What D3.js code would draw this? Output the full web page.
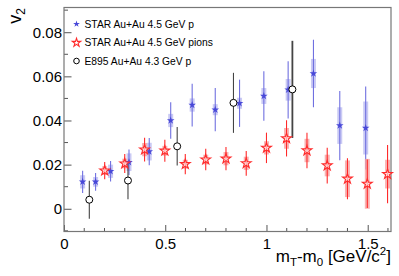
<!DOCTYPE html>
<html><head><meta charset="utf-8">
<script src="https://cdn.jsdelivr.net/npm/d3@7"></script>
<style>body{margin:0;background:#fff}svg{display:block}text{font-family:"Liberation Sans",Arial,sans-serif}</style>
</head><body><svg id="c" width="399" height="276"></svg>
<script>
// STAR Au+Au 4.5 GeV protons
const pX    = [0.092,0.156,0.230,0.321,0.421,0.527,0.633,0.747,0.867,0.987,1.107,1.232,1.362,1.490];
const pV    = [0.0122,0.0122,0.0170,0.0211,0.0259,0.0400,0.0470,0.0449,0.0478,0.0511,0.0539,0.0613,0.0377,0.0366];
const pStat = [0.0050,0.0040,0.0046,0.0058,0.0062,0.0083,0.0097,0.0098,0.0107,0.0112,0.0130,0.0153,0.0157,0.0188];
const pSys  = [0.0030,0.0022,0.0030,0.0040,0.0040,0.0030,0.0030,0.0025,0.0025,0.0036,0.0049,0.0066,0.0083,0.0120];
// STAR Au+Au 4.5 GeV pions
const piX    = [0.201,0.300,0.398,0.498,0.599,0.700,0.800,0.900,1.000,1.099,1.200,1.300,1.400,1.498,1.598];
const piV    = [0.0173,0.0205,0.0268,0.0263,0.0202,0.0223,0.0227,0.0206,0.0276,0.0319,0.0264,0.0196,0.0136,0.0113,0.0157];
const piStat = [0.0039,0.0043,0.0054,0.0050,0.0046,0.0049,0.0053,0.0056,0.0069,0.0082,0.0080,0.0081,0.0093,0.0110,0.0132];
const piSys  = [0.0020,0.0022,0.0030,0.0022,0.0020,0.0022,0.0030,0.0030,0.0030,0.0047,0.0053,0.0049,0.0083,0.0113,0.0065];
// E895 Au+Au 4.3 GeV protons
const eX   = [0.125,0.316,0.559,0.837,1.128];
const eV   = [0.0041,0.0128,0.0283,0.0480,0.0541];
const eErr = [0.0086,0.0085,0.0087,0.0136,0.0220];
// axes
const xTicks = [0,0.5,1,1.5];
const yTicks = [0,0.02,0.04,0.06,0.08];
const legendLabels = ["STAR Au+Au 4.5 GeV p","STAR Au+Au 4.5 GeV pions","E895 Au+Au 4.3 GeV p"];

const svg = d3.select("#c");
const L=64, R=391, T=7.5, B=231.5;
const x = d3.scaleLinear().domain([0,1.615]).range([L,R]);
const y = d3.scaleLinear().domain([-0.0103,0.0912]).range([B,T]);
const axisCol="#555";

// axes
const gx = svg.append("g").attr("transform",`translate(0,${B})`);
gx.call(d3.axisBottom(x).tickValues(xTicks).tickSize(-6.5).tickPadding(6.5).tickFormat(d=>d===0?"0":d3.format("")(d)));
const gy = svg.append("g").attr("transform",`translate(${L},0)`);
gy.call(d3.axisLeft(y).tickValues(yTicks).tickSize(-7.5).tickPadding(2).tickFormat(d=>d===0?"0":d3.format(".2f")(d)));
[gx,gy].forEach(g=>{
  g.select(".domain").remove();
  g.selectAll(".tick line").attr("stroke",axisCol);
  g.selectAll(".tick text").attr("fill","#000").style("font-size","15px");
});
// minor ticks
const xMinor = d3.range(0,1.62,0.1).filter(v=>Math.abs(v*2-Math.round(v*2))>1e-6);
svg.append("g").selectAll("line").data(xMinor).join("line")
  .attr("x1",d=>x(d)).attr("x2",d=>x(d)).attr("y1",B).attr("y2",B-3.5).attr("stroke",axisCol);
const yMinor = [-0.01,0.01,0.03,0.05,0.07,0.09];
svg.append("g").selectAll("line").data(yMinor).join("line")
  .attr("x1",L).attr("x2",L+4).attr("y1",d=>y(d)).attr("y2",d=>y(d)).attr("stroke",axisCol);
// frame
svg.append("rect").attr("x",L).attr("y",T).attr("width",R-L).attr("height",B-T)
  .attr("fill","none").attr("stroke","#777").attr("stroke-width",1.2);

const star = d3.symbol().type(d3.symbolStar);
const blue="#4848d8", red="#ff2a2a";

// protons (blue)
const pd = pX.map((v,i)=>({x:v,v:pV[i],s:pStat[i],sy:pSys[i]}));
svg.append("g").selectAll("rect").data(pd).join("rect")
  .attr("x",d=>x(d.x)-2.5).attr("width",5).attr("y",d=>y(d.v+d.sy)).attr("height",d=>y(d.v-d.sy)-y(d.v+d.sy))
  .attr("fill","#b8b8f0").attr("opacity",0.75);
svg.append("g").selectAll("line").data(pd).join("line")
  .attr("x1",d=>x(d.x)).attr("x2",d=>x(d.x)).attr("y1",d=>y(d.v+d.s)).attr("y2",d=>y(d.v-d.s))
  .attr("stroke","#7070e0").attr("stroke-width",1.1);

// pions (red)
const pid = piX.map((v,i)=>({x:v,v:piV[i],s:piStat[i],sy:piSys[i]}));
svg.append("g").selectAll("rect").data(pid).join("rect")
  .attr("x",d=>x(d.x)-2.5).attr("width",5).attr("y",d=>y(d.v+d.sy)).attr("height",d=>y(d.v-d.sy)-y(d.v+d.sy))
  .attr("fill","#f7a0a0").attr("opacity",0.8);
svg.append("g").selectAll("line").data(pid).join("line")
  .attr("x1",d=>x(d.x)).attr("x2",d=>x(d.x)).attr("y1",d=>y(d.v+d.s)).attr("y2",d=>y(d.v-d.s))
  .attr("stroke",red).attr("stroke-width",1.1);

// E895 (black)
const ed = eX.map((v,i)=>({x:v,v:eV[i],e:eErr[i]}));
svg.append("g").selectAll("line").data(ed).join("line")
  .attr("x1",d=>x(d.x)).attr("x2",d=>x(d.x)).attr("y1",d=>y(d.v+d.e)).attr("y2",d=>y(d.v-d.e))
  .attr("stroke","#444").attr("stroke-width",(d,i)=>i===ed.length-1?1.8:1.1);

// markers
svg.append("g").selectAll("path").data(pd).join("path")
  .attr("transform",d=>`translate(${x(d.x)},${y(d.v)})`).attr("d",star.size(18)())
  .attr("fill",blue);
svg.append("g").selectAll("path").data(pid).join("path")
  .attr("transform",d=>`translate(${x(d.x)},${y(d.v)})`).attr("d",star.size(30)())
  .attr("fill","#fff").attr("fill-opacity",0.6).attr("stroke",red).attr("stroke-width",1.1);
svg.append("g").selectAll("circle").data(ed).join("circle")
  .attr("cx",d=>x(d.x)).attr("cy",d=>y(d.v)).attr("r",3.5)
  .attr("fill","#fff").attr("stroke","#000").attr("stroke-width",1);

// legend
const lg = svg.append("g");
const ly = [24,42.7,61];
lg.append("path").attr("transform",`translate(76.5,${ly[0]})`).attr("d",star.size(14)()).attr("fill",blue);
lg.append("path").attr("transform",`translate(76.5,${ly[1]})`).attr("d",star.size(22)()).attr("fill","none").attr("stroke",red).attr("stroke-width",1.1);
lg.append("circle").attr("cx",76.5).attr("cy",ly[2]).attr("r",2.8).attr("fill","none").attr("stroke","#000");
legendLabels.forEach((t,i)=>lg.append("text").attr("x",84.5).attr("y",ly[i]+3.7).style("font-size","10.3px").text(t));

// axis titles
const yt = svg.append("text").attr("transform","translate(21,8) rotate(-90)").attr("text-anchor","end").style("font-size","18px");
yt.append("tspan").text("v");
yt.append("tspan").attr("dy",4).style("font-size","12px").text("2");
const xt = svg.append("text").attr("x",391).attr("y",261.5).attr("text-anchor","end").style("font-size","17px");
xt.append("tspan").text("m");
xt.append("tspan").attr("dy",4).style("font-size","11.5px").text("T");
xt.append("tspan").attr("dy",-4).text("-m");
xt.append("tspan").attr("dy",4).style("font-size","11.5px").text("0");
xt.append("tspan").attr("dy",-4).text(" [GeV/c");
xt.append("tspan").attr("dy",-6.5).style("font-size","11.5px").text("2");
xt.append("tspan").attr("dy",6.5).text("]");
</script></body></html>
